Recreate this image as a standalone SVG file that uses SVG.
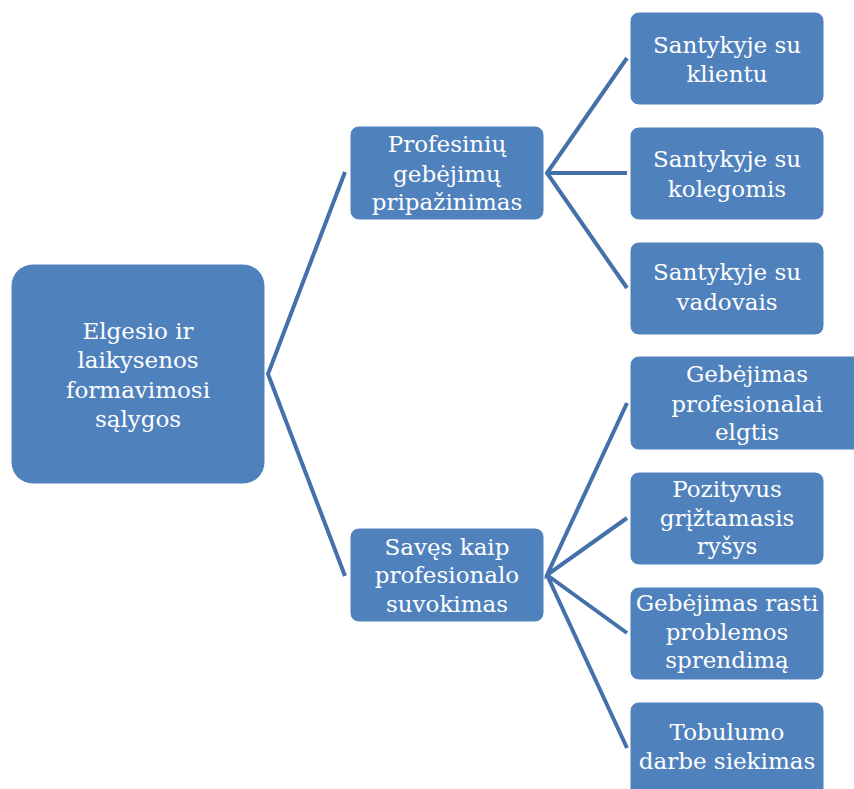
<svg xmlns="http://www.w3.org/2000/svg" width="854" height="789" viewBox="0 0 854 789">
<style>
.n{fill:#4F81BD;stroke:#FFFFFF;stroke-width:1}
.t{fill:#FFFFFF;font-family:"DejaVu Serif","Liberation Serif",serif;font-size:23px;text-anchor:middle}
.c{stroke:#4471AA;stroke-width:4;fill:none}
</style>
<g id="connectors">
<path class="c" d="M345,172 L268,374 L345,576" stroke="#3C649E"/>
<path class="c" d="M627,58 L547,173 L627,288 M547,173 L627,173"/>
<path class="c" d="M627,403 L547,575 L627,518 M547,575 L627,633 M547,575 L627,748"/>
</g>
<g id="root"><rect class="n" x="11" y="264" width="254" height="220" rx="22"/>
<text class="t" x="138" y="339">Elgesio ir</text><text class="t" x="138" y="368">laikysenos</text><text class="t" x="138" y="398">formavimosi</text><text class="t" x="138" y="427">sąlygos</text></g>
<g id="mid1"><rect class="n" x="350" y="126" width="194" height="94" rx="9"/>
<text class="t" x="447" y="152">Profesinių</text><text class="t" x="447" y="182">gebėjimų</text><text class="t" x="447" y="210">pripažinimas</text></g>
<g id="mid2"><rect class="n" x="350" y="528" width="194" height="94" rx="9"/>
<text class="t" x="447" y="555">Savęs kaip</text><text class="t" x="447" y="583">profesionalo</text><text class="t" x="447" y="612">suvokimas</text></g>
<g id="leaf1"><rect class="n" x="630" y="12" width="194" height="93" rx="9"/>
<text class="t" x="727" y="53">Santykyje su</text><text class="t" x="727" y="82">klientu</text></g>
<g id="leaf2"><rect class="n" x="630" y="127" width="194" height="93" rx="9"/>
<text class="t" x="727" y="167">Santykyje su</text><text class="t" x="727" y="197">kolegomis</text></g>
<g id="leaf3"><rect class="n" x="630" y="242" width="194" height="93" rx="9"/>
<text class="t" x="727" y="280">Santykyje su</text><text class="t" x="727" y="310">vadovais</text></g>
<g id="leaf4"><rect class="n" x="630" y="356" width="234" height="94" rx="9"/>
<text class="t" x="747" y="382">Gebėjimas</text><text class="t" x="747" y="412">profesionalai</text><text class="t" x="747" y="440">elgtis</text></g>
<g id="leaf5"><rect class="n" x="630" y="472" width="194" height="93" rx="9"/>
<text class="t" x="727" y="497">Pozityvus</text><text class="t" x="727" y="526">grįžtamasis</text><text class="t" x="727" y="554">ryšys</text></g>
<g id="leaf6"><rect class="n" x="630" y="587" width="194" height="93" rx="9"/>
<text class="t" x="727" y="611">Gebėjimas rasti</text><text class="t" x="727" y="640">problemos</text><text class="t" x="727" y="668">sprendimą</text></g>
<g id="leaf7"><rect class="n" x="630" y="702" width="194" height="100" rx="9"/>
<text class="t" x="727" y="740">Tobulumo</text><text class="t" x="727" y="769">darbe siekimas</text></g>
</svg>
